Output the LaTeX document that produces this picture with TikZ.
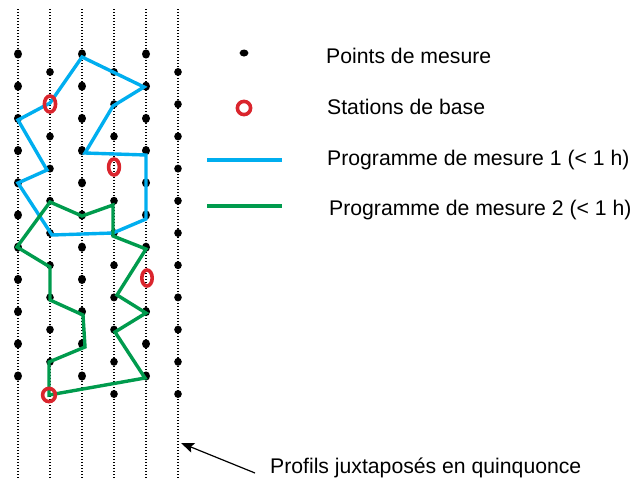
\documentclass[tikz,border=0pt]{standalone}
\usepackage{fontspec}
\setmainfont{Liberation Sans}
\usetikzlibrary{arrows.meta}
\definecolor{progblue}{RGB}{0,174,239}
\definecolor{proggreen}{RGB}{0,155,77}
\definecolor{stred}{RGB}{218,37,45}
\begin{document}
\begin{tikzpicture}[x=1pt,y=-1pt,
  profile/.style={line width=1.1pt, dash pattern=on 1.1pt off 1.9pt},
  mdot/.style={fill=black},
  station/.style={draw=stred, line width=3.6pt},
  prog1/.style={progblue, line width=3.4pt, line join=miter, miter limit=3},
  prog2/.style={proggreen, line width=3.4pt, line join=miter, miter limit=3},
  lab/.style={anchor=base west, inner sep=0pt, font=\fontsize{21.2}{25}\selectfont}]
\useasboundingbox (0,0) rectangle (631,480);

% profiles
\foreach \x in {18,50,82,114,146,178}
  \draw[profile] (\x,9) -- (\x,479);

% measurement points (quincunx grid)
\foreach \x in {18,82,146}{
  \foreach \i in {0,...,10}{
    \pgfmathsetmacro{\myy}{54+32.2*\i}
    \pgfmathtruncatemacro{\myskip}{(\x==146 && \i==7) ? 1 : 0}
    \ifnum\myskip=0 \fill[mdot] (\x,\myy) ellipse [x radius=4pt, y radius=4.6pt];\fi
  }
}
\foreach \x in {50,114,178}{
  \foreach \i in {0,...,10}{
    \pgfmathsetmacro{\myy}{72+32.2*\i}
    \pgfmathtruncatemacro{\myskip}{((\x==50 && (\i==1 || \i==10)) || (\x==114 && \i==3)) ? 1 : 0}
    \ifnum\myskip=0 \fill[mdot] (\x,\myy) ellipse [x radius=3.8pt, y radius=4pt];\fi
  }
}

% programme 1 (blue loop)
\coordinate (b1) at (82,57);
\coordinate (b2) at (50,103);
\coordinate (b3) at (18,120);
\coordinate (b4) at (47,170);
\coordinate (b5) at (18,183);
\coordinate (b6) at (52,235);
\coordinate (b7) at (113,233);
\coordinate (b8) at (146,219);
\coordinate (b9) at (146,155);
\coordinate (b10) at (85,153);
\coordinate (b11) at (113,106);
\coordinate (b12) at (144,87);
\draw[prog1] (b1) -- (b2) -- (b3) -- (b4) -- (b5) -- (b6) -- (b7) -- (b8) -- (b9) -- (b10) -- (b11) -- (b12) -- cycle;

% programme 2 (green loop)
\coordinate (g1) at (49,395);
\coordinate (g2) at (49,362);
\coordinate (g3) at (85,347);
\coordinate (g4) at (83,315);
\coordinate (g5) at (50,300);
\coordinate (g6) at (50,267);
\coordinate (g7) at (17,247);
\coordinate (g8) at (50,202);
\coordinate (g9) at (82,216);
\coordinate (g10) at (113,205);
\coordinate (g11) at (113,236);
\coordinate (g12) at (146,249);
\coordinate (g13) at (117,295);
\coordinate (g14) at (146,313);
\coordinate (g15) at (115,332);
\coordinate (g16) at (145,378);
\draw[prog2] (g1) -- (g2) -- (g3) -- (g4) -- (g5) -- (g6) -- (g7) -- (g8) -- (g9) -- (g10) -- (g11) -- (g12) -- (g13) -- (g14) -- (g15) -- (g16) -- cycle;

% base stations
\draw[station] (50,104) ellipse [x radius=5.6pt, y radius=8pt];
\draw[station] (114,167) ellipse [x radius=5.4pt, y radius=8pt];
\draw[station] (147,278) ellipse [x radius=5.2pt, y radius=8pt];
\draw[station] (49,395) ellipse [x radius=6.4pt, y radius=6.6pt];

% legend
\fill[mdot] (244,53) ellipse [x radius=4.4pt, y radius=3.5pt];
\draw[station] (244,108) ellipse [x radius=6.6pt, y radius=6.6pt];
\coordinate (l1a) at (207,160); \coordinate (l1b) at (282,160);
\coordinate (l2a) at (207,206); \coordinate (l2b) at (282,206);
\draw[progblue, line width=3.4pt] (l1a) -- (l1b);
\draw[proggreen, line width=3.4pt] (l2a) -- (l2b);
\node[lab] (t1) at (326,63) {Points de mesure};
\node[lab] (t2) at (327,114) {Stations de base};
\node[lab] (t3) at (327,165) {Programme de mesure 1 (< 1 h)};
\node[lab] (t4) at (329,215) {Programme de mesure 2 (< 1 h)};

% annotation
\node[lab] (t5) at (270,473) {Profils juxtaposés en quinquonce};
\coordinate (atail) at (255,473);
\coordinate (atip) at (181,443);
\draw[line width=1.2pt, -{Stealth[length=13pt, width=10pt, inset=2.5pt]}] (atail) -- (atip);
\end{tikzpicture}
\end{document}
